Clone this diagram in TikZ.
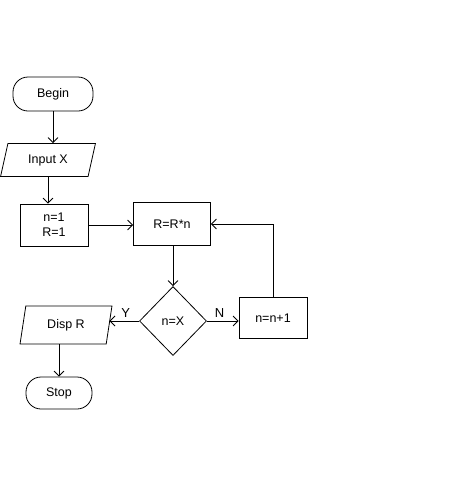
\documentclass[tikz,border=0pt]{standalone}
\usepackage{fontspec}
\setmainfont{Liberation Sans}
\usetikzlibrary{shapes.geometric,arrows.meta}
\begin{document}
\begin{tikzpicture}[x=1pt,y=-1pt,
  every node/.style={font=\fontsize{12.5}{15}\selectfont, inner sep=0pt, line width=0.8pt},
  terminal/.style={draw, rounded corners=15pt, minimum width=#1, minimum height=34pt},
  terminal/.default=80pt,
  process/.style={draw, minimum width=68pt, minimum height=42pt, align=center},
  io/.style={draw, trapezium, trapezium left angle=72, trapezium right angle=108,
             trapezium stretches=true, minimum width=#1, minimum height=33pt},
  io/.default=95pt,
  decision/.style={draw, diamond, minimum width=67pt, minimum height=69pt},
  flow/.style={draw, line width=0.8pt, -{Straight Barb[length=5pt,width=10pt]}},
  lbl/.style={font=\fontsize{13}{15}\selectfont}
]
\useasboundingbox (0,0) rectangle (466,480);

\node[terminal] (begin) at (53,94) {Begin};
\node[io] (input) at (48,160) {Input X};
\node[process] (init) at (54,225) {n=1\\R=1};
\node[process, minimum width=77pt, minimum height=43pt] (mult) at (172,224) {R=R*n};
\node[decision] (test) at (173,321) {n=X};
\node[process, minimum height=41pt] (inc) at (273,318) {n=n+1};
\node[io=92pt, minimum height=38pt, trapezium left angle=77, trapezium right angle=103] (disp) at (66,325) {Disp R};
\node[terminal=66pt, minimum height=32pt] (stop) at (59,393) {Stop};

\draw[flow] (begin.south) -- (input.north -| begin.south);
\draw[flow] (input.south) -- (init.north -| input.south);
\draw[flow] (init.east) -- (mult.west |- init.east);
\draw[flow] (mult.south -| test.north) -- (test.north);
\draw[flow] (test.east) -- (inc.west |- test.east) node[lbl, pos=0.4, above=3pt] {N};
\draw[flow] (inc.north) -- (inc.north |- mult.east) -- (mult.east);
\draw[flow] (test.west) -- (disp.east |- test.west) node[lbl, pos=0.45, above=3pt] {Y};
\draw[flow] (disp.south -| stop.north) -- (stop.north);
\end{tikzpicture}
\end{document}
